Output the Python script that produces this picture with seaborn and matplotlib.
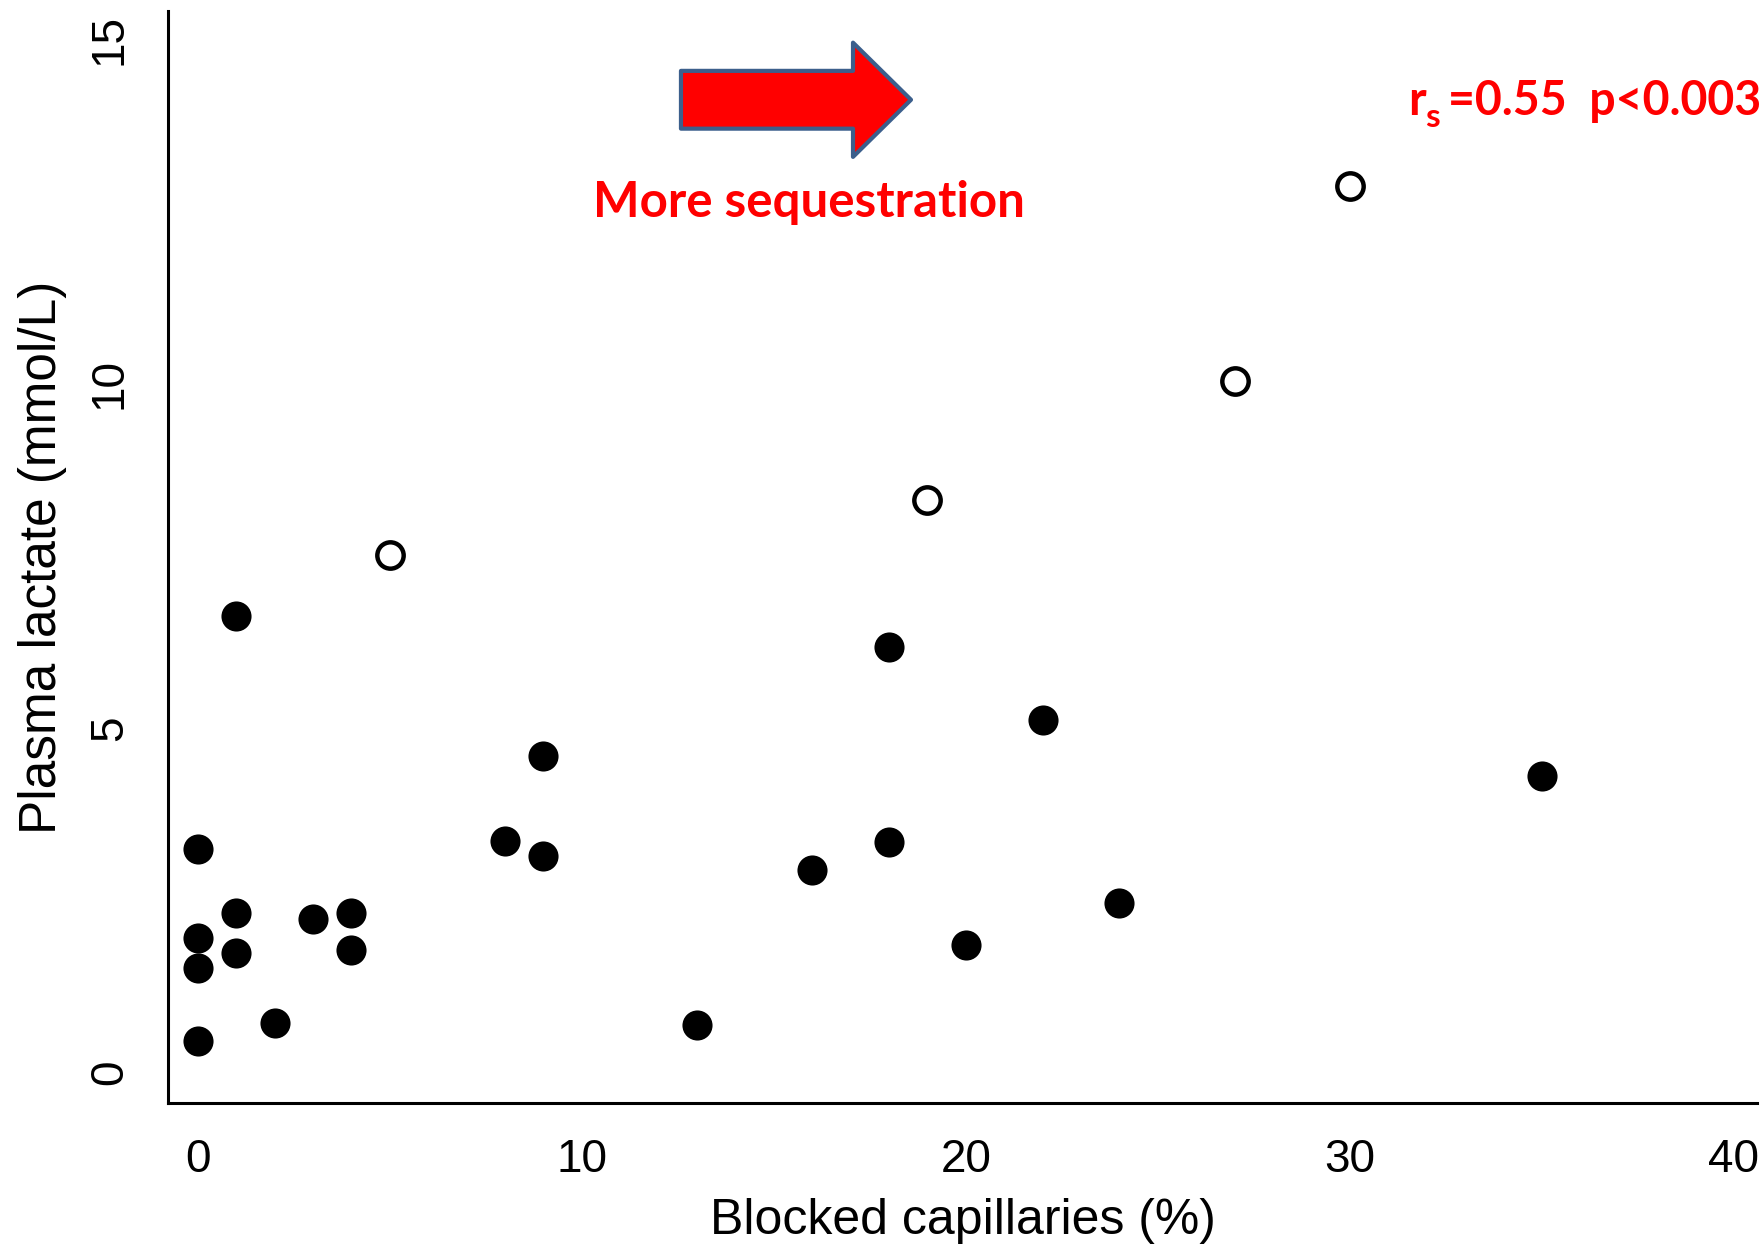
import matplotlib
matplotlib.use('Agg')
import matplotlib.pyplot as plt
import seaborn as sns
import pandas as pd
from matplotlib.patches import FancyArrow

# Blocked capillaries (%) vs plasma lactate (mmol/L)
filled_x = [0, 0, 0, 0, 1, 1, 1, 2, 3, 4, 4, 8, 9, 9, 13, 16, 18, 18, 20, 22, 24, 35]
filled_y = [0.45, 1.51, 1.95, 3.24, 1.73, 2.31, 6.63, 0.71, 2.22, 2.31, 1.77,
            3.36, 4.59, 3.14, 0.68, 2.94, 6.17, 3.34, 1.84, 5.12, 2.46, 4.30]
open_x = [5, 19, 27, 30]
open_y = [7.52, 8.31, 10.04, 12.87]

x_ticks = [0, 10, 20, 30, 40]
y_ticks = [0, 5, 10, 15]

sns.set_style('white')
plt.rcParams['font.family'] = ['Liberation Sans', 'DejaVu Sans']
plt.rcParams['text.color'] = 'black'
plt.rcParams['axes.labelcolor'] = 'black'
plt.rcParams['xtick.color'] = 'black'
plt.rcParams['ytick.color'] = 'black'

fig = plt.figure(figsize=(17.64, 12.5), dpi=100)
ax = fig.add_axes([0.0952, 0.1176, 0.9008, 0.8736])

df_filled = pd.DataFrame({'x': filled_x, 'y': filled_y})
df_open = pd.DataFrame({'x': open_x, 'y': open_y})

sns.scatterplot(data=df_filled, x='x', y='y', ax=ax, s=470, color='black',
                edgecolor='black', linewidth=0, marker='o', zorder=3)
sns.scatterplot(data=df_open, x='x', y='y', ax=ax, s=360, facecolor='white',
                edgecolor='black', linewidth=3.2, marker='o', zorder=3)

ax.set_xlim(-0.78, 40.6)
ax.set_ylim(-0.45, 15.42)
ax.set_xticks(x_ticks)
ax.set_yticks(y_ticks)
ax.set_xlabel('')
ax.set_ylabel('')

for side in ['top', 'right']:
    ax.spines[side].set_visible(False)
for side in ['left', 'bottom']:
    ax.spines[side].set_linewidth(2.2)
    ax.spines[side].set_color('black')

ax.tick_params(axis='both', which='major', direction='out', length=12,
               width=2.2, color='black', labelsize=33, labelcolor='black')
ax.tick_params(axis='x', pad=13)
ax.tick_params(axis='y', pad=14)
for lab in ax.get_yticklabels():
    lab.set_rotation(90)
    lab.set_va('center')

fig.text(963 / 1764, 1 - 1221 / 1250, 'Blocked capillaries (%)', fontsize=36,
         ha='center', va='center', color='black')
fig.text(43 / 1764, 1 - 557 / 1250, 'Plasma lactate (mmol/L)', fontsize=37,
         rotation=90, ha='center', va='center', color='black')

# annotation arrow
arrow = FancyArrow(12.58, 14.13, 5.99, 0, width=0.84, head_width=1.66,
                   head_length=1.51, length_includes_head=True,
                   facecolor='#FF0000', edgecolor='#3C5F8C', linewidth=3,
                   joinstyle='round', zorder=4)
ax.add_patch(arrow)

red_font = ['Lato', 'DejaVu Sans']
fig.text(809 / 1764, 1 - 217 / 1250, 'More sequestration', fontsize=35.5,
         fontweight='bold', color='#FF0000', family=red_font,
         ha='center', va='baseline')

fig.text(1408 / 1764, 1 - 115 / 1250, 'r', fontsize=34, fontweight='bold',
         color='#FF0000', family=red_font, ha='left', va='baseline')
fig.text(1425 / 1764, 1 - 127 / 1250, 's', fontsize=24, fontweight='bold',
         color='#FF0000', family=red_font, ha='left', va='baseline')
fig.text(1448 / 1764, 1 - 115 / 1250, '=0.55  p<0.003', fontsize=33.5,
         fontweight='bold', color='#FF0000', family=red_font,
         ha='left', va='baseline')

fig.savefig('out.png', dpi=100, facecolor='white')
